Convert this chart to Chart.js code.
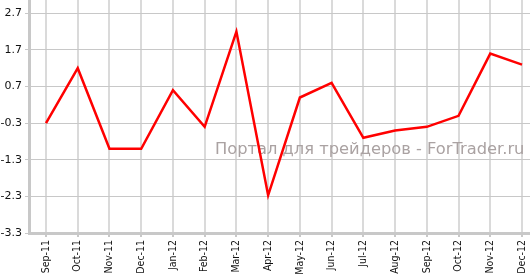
<!DOCTYPE html>
<html>
<head>
<meta charset="utf-8">
<script src="https://cdn.jsdelivr.net/npm/chart.js@4"></script>
<style>
  body { margin: 0; background: #ffffff; }
  canvas { display: block; }
</style>
</head>
<body>
<canvas id="chart" width="530" height="276"></canvas>
<script>
const months = ['Sep-11', 'Oct-11', 'Nov-11', 'Dec-11', 'Jan-12', 'Feb-12', 'Mar-12', 'Apr-12',
  'May-12', 'Jun-12', 'Jul-12', 'Aug-12', 'Sep-12', 'Oct-12', 'Nov-12', 'Dec-12'];
const values = [-0.3, 1.2, -1.0, -1.0, 0.6, -0.4, 2.2, -2.27, 0.4, 0.8, -0.7, -0.5, -0.4, -0.1, 1.6, 1.3];
const yTicks = [-3.3, -2.3, -1.3, -0.3, 0.7, 1.7, 2.7];
const watermark = 'Портал для трейдеров - ForTrader.ru';

// watermark text behind the line
const watermarkPlugin = {
  id: 'watermark',
  beforeDatasetsDraw(chart) {
    const ctx = chart.ctx;
    ctx.save();
    ctx.font = '16.3px "DejaVu Sans"';
    ctx.fillStyle = '#aaa2a2';
    ctx.textBaseline = 'alphabetic';
    ctx.fillText(watermark, 215, 154);
    ctx.restore();
  }
};

new Chart(document.getElementById('chart'), {
  type: 'line',
  data: {
    datasets: [{
      data: values.map((v, i) => ({ x: i, y: v })),
      borderColor: '#ff0000',
      borderWidth: 2.5,
      pointRadius: 0,
      tension: 0,
      fill: false
    }]
  },
  options: {
    responsive: false,
    animation: false,
    layout: { padding: 0 },
    plugins: { legend: { display: false }, tooltip: { enabled: false } },
    scales: {
      x: {
        type: 'linear',
        min: -0.536,
        max: 15.252,
        afterBuildTicks: (axis) => { axis.ticks = months.map((m, i) => ({ value: i })); },
        afterFit: (axis) => { axis.height = 43; axis.paddingLeft = 0; axis.paddingRight = 0; },
        ticks: {
          autoSkip: false,
          minRotation: 90,
          maxRotation: 90,
          padding: 3,
          color: '#111111',
          font: { family: '"DejaVu Sans Condensed", "DejaVu Sans"', size: 10.5 },
          callback: (v) => months[v]
        },
        grid: { color: '#dadada', lineWidth: 2, tickLength: 4, tickColor: '#c8c8c8' },
        border: { color: '#c8c8c8', width: 3 }
      },
      y: {
        min: -3.3,
        max: 3.063,
        afterBuildTicks: (axis) => { axis.ticks = yTicks.map(v => ({ value: v })); },
        afterFit: (axis) => { axis.width = 29; axis.paddingTop = 0; axis.paddingBottom = 0; },
        ticks: {
          padding: 3,
          color: '#111111',
          font: { family: '"DejaVu Sans"', size: 11 },
          callback: (v) => v.toFixed(1)
        },
        grid: { color: '#c8c8c8', lineWidth: 1, tickLength: 4 },
        border: { color: '#c8c8c8', width: 3 }
      }
    }
  },
  plugins: [watermarkPlugin]
});
</script>
</body>
</html>
